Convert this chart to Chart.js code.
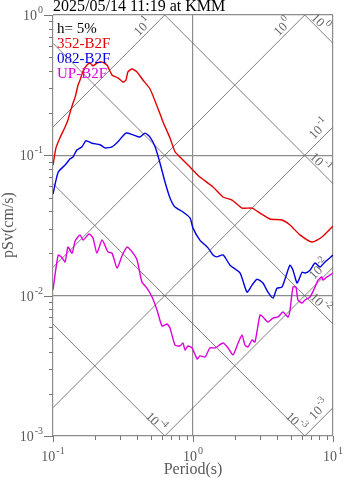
<!DOCTYPE html>
<html>
<head>
<meta charset="utf-8">
<script src="https://cdn.jsdelivr.net/npm/chart.js@4.4.1/dist/chart.umd.min.js"></script>
<style>
  html, body { margin: 0; padding: 0; background: #fff; }
  canvas { display: block; }
</style>
</head>
<body>
<canvas id="spectrum" width="347" height="478"></canvas>
<script>
// Pseudo-velocity response spectrum (tripartite, log-log)
const title = '2025/05/14 11:19 at KMM'
const damping = 'h= 5%'

const names = ['352-B2F', '082-B2F', 'UP-B2F']
const colors = ['rgb(226, 0, 0)', 'rgb(0, 0, 226)', 'rgb(220, 0, 220)']

// period (s) / pSv (cm/s) per component
const ewPeriod = [0.100, 0.105, 0.112, 0.122, 0.128, 0.132, 0.139, 0.144, 0.151, 0.156,
  0.164, 0.175, 0.184, 0.193, 0.206, 0.224, 0.243, 0.264, 0.291, 0.316,
  0.332, 0.343, 0.367, 0.398, 0.439, 0.493, 0.553, 0.611, 0.685, 0.744,
  0.807, 0.921, 1.03, 1.12, 1.39, 1.64, 1.90, 2.24, 2.64, 3.01,
  3.55, 4.32, 4.93, 5.81, 7.08, 8.34, 10.0]
const ewSv = [0.0853, 0.113, 0.133, 0.159, 0.179, 0.200, 0.236, 0.260, 0.317, 0.344,
  0.399, 0.440, 0.455, 0.433, 0.455, 0.462, 0.440, 0.374, 0.356, 0.333,
  0.344, 0.393, 0.412, 0.393, 0.344, 0.297, 0.225, 0.173, 0.133, 0.106,
  0.0973, 0.0853, 0.0760, 0.0701, 0.0595, 0.0505, 0.0480, 0.0421, 0.0421, 0.0388,
  0.0352, 0.0346, 0.0319, 0.0271, 0.0241, 0.0262, 0.0314]

const nsPeriod = [0.100, 0.109, 0.122, 0.132, 0.139, 0.148, 0.161, 0.172, 0.190, 0.217,
  0.235, 0.264, 0.291, 0.332, 0.373, 0.418, 0.454, 0.493, 0.536, 0.581,
  0.631, 0.685, 0.744, 0.848, 0.952, 1.00, 1.12, 1.28, 1.39, 1.48,
  1.64, 1.84, 2.17, 2.43, 2.64, 2.87, 3.16, 3.43, 3.73, 3.98,
  4.32, 4.69, 4.93, 5.18, 5.53, 5.81, 6.01, 6.31, 6.85, 7.44,
  8.07, 8.77, 10.0]
const nsSv = [0.0530, 0.0760, 0.0853, 0.0941, 0.0973, 0.109, 0.115, 0.127, 0.122, 0.119,
  0.113, 0.115, 0.125, 0.144, 0.140, 0.135, 0.144, 0.135, 0.115, 0.0882,
  0.0646, 0.0497, 0.0428, 0.0395, 0.0358, 0.0303, 0.0249, 0.0219, 0.0195, 0.0189,
  0.0195, 0.0165, 0.0145, 0.0106, 0.0119, 0.0131, 0.0123, 0.0106, 0.00962, 0.0113,
  0.0115, 0.0145, 0.0165, 0.0152, 0.0123, 0.0136, 0.0147, 0.0145, 0.0152, 0.0171,
  0.0160, 0.0174, 0.0195]

const udPeriod = [0.100, 0.109, 0.116, 0.122, 0.128, 0.137, 0.144, 0.156, 0.164, 0.181,
  0.193, 0.206, 0.224, 0.247, 0.264, 0.287, 0.311, 0.338, 0.367, 0.398,
  0.432, 0.469, 0.510, 0.553, 0.601, 0.652, 0.685, 0.744, 0.807, 0.848,
  0.877, 0.921, 0.984, 1.07, 1.12, 1.22, 1.32, 1.44, 1.64, 1.78,
  1.93, 2.10, 2.24, 2.35, 2.47, 2.64, 2.77, 3.01, 3.16, 3.43,
  3.73, 4.05, 4.39, 4.77, 4.93, 5.18, 5.44, 5.62, 6.01, 6.31,
  6.85, 7.44, 7.82, 8.34, 8.48, 9.06, 10.0]
const udSv = [0.0110, 0.0195, 0.0186, 0.0174, 0.0222, 0.0201, 0.0245, 0.0271, 0.0249, 0.0275,
  0.0258, 0.0201, 0.0249, 0.0205, 0.0201, 0.0157, 0.0192, 0.0222, 0.0205, 0.0180,
  0.0125, 0.0113, 0.00978, 0.00790, 0.00608, 0.00628, 0.00588, 0.00445, 0.00438, 0.00460,
  0.00410, 0.00438, 0.00424, 0.00354, 0.00372, 0.00366, 0.00424, 0.00424, 0.00460, 0.00424,
  0.00378, 0.00460, 0.00524, 0.00445, 0.00431, 0.00483, 0.00467, 0.00728, 0.00705, 0.00649,
  0.00693, 0.00705, 0.00765, 0.00705, 0.00790, 0.0115, 0.0115, 0.00931, 0.00887, 0.00931,
  0.00978, 0.0115, 0.0129, 0.0136, 0.0129, 0.0136, 0.0145]

// diagonal reference lines: acceleration (cm/s^2) and displacement (cm)
const accelLevels = [1e-3, 1e-2, 1e-1, 1, 10]
const dispLevels = [1e-4, 1e-3, 1e-2, 1e-1, 1]

const xTickExps = [-1, 0, 1]
const yTickExps = [-3, -2, -1, 0]

const TWO_PI = 2 * Math.PI
const FONT = '"Liberation Serif", "Times New Roman", serif'
const GRAY = '#5a5a5a'

const toPoints = (xs, ys) => xs.map((x, i) => ({ x, y: ys[i] }))
const isDecade = (v) => Math.abs(Math.log10(v) - Math.round(Math.log10(v))) < 1e-6

const curveSets = [
  toPoints(ewPeriod, ewSv),
  toPoints(nsPeriod, nsSv),
  toPoints(udPeriod, udSv)
].map((data, i) => ({
  data,
  borderColor: colors[i],
  borderWidth: 1.4,
  pointRadius: 0,
  tension: 0.2,
  showLine: true
}))

const refLine = (data) => ({
  data,
  borderColor: 'rgba(95, 95, 95, 0.9)',
  borderWidth: 0.9,
  pointRadius: 0,
  showLine: true
})
const accelSets = accelLevels.map(a => refLine([
  { x: 0.1, y: a * 0.1 / TWO_PI }, { x: 10, y: a * 10 / TWO_PI }
]))
const dispSets = dispLevels.map(d => refLine([
  { x: 0.1, y: TWO_PI * d / 0.1 }, { x: 10, y: TWO_PI * d / 10 }
]))

// "10" with a raised exponent, baseline at y
function drawPow(ctx, x, y, exp, size, supSize, align) {
  ctx.font = `${size}px ${FONT}`
  const w1 = ctx.measureText('10').width
  ctx.font = `${supSize}px ${FONT}`
  const w2 = ctx.measureText(String(exp)).width
  const total = w1 + 1 + w2
  const x0 = align === 'right' ? x - total : x - total / 2
  ctx.textAlign = 'left'
  ctx.textBaseline = 'alphabetic'
  ctx.font = `${size}px ${FONT}`
  ctx.fillText('10', x0, y)
  ctx.font = `${supSize}px ${FONT}`
  ctx.fillText(String(exp), x0 + w1 + 1, y - size * 0.5)
}

const decorations = {
  id: 'decorations',
  afterDraw(chart) {
    const ctx = chart.ctx
    const xs = chart.scales.x
    const ys = chart.scales.y
    const { left, right, top, bottom } = chart.chartArea

    ctx.save()

    // tick marks outside the frame
    ctx.strokeStyle = '#777'
    ctx.lineWidth = 1
    ctx.beginPath()
    for (const base of [0.1, 1]) {
      for (let m = 1; m <= 10; m++) {
        const px = Math.round(xs.getPixelForValue(m * base)) + 0.5
        const len = (m === 1 || m === 10) ? 6 : 4
        ctx.moveTo(px, bottom)
        ctx.lineTo(px, bottom + len)
      }
    }
    for (const base of [0.001, 0.01, 0.1]) {
      for (let m = 1; m <= 10; m++) {
        const py = Math.round(ys.getPixelForValue(m * base)) + 0.5
        const len = (m === 1 || m === 10) ? 9 : 4
        ctx.moveTo(left, py)
        ctx.lineTo(left - len, py)
      }
    }
    ctx.stroke()

    // axis tick labels
    ctx.fillStyle = GRAY
    for (const e of xTickExps) {
      drawPow(ctx, xs.getPixelForValue(Math.pow(10, e)), 461, e, 14, 10, 'center')
    }
    for (const e of yTickExps) {
      drawPow(ctx, 43, ys.getPixelForValue(Math.pow(10, e)) + 5, e, 14, 10, 'right')
    }

    // axis titles
    ctx.font = `16px ${FONT}`
    ctx.textAlign = 'center'
    ctx.textBaseline = 'alphabetic'
    ctx.fillText('Period(s)', (left + right) / 2, 474)
    ctx.save()
    ctx.translate(9, 225)
    ctx.rotate(-Math.PI / 2)
    ctx.textBaseline = 'middle'
    ctx.fillText('pSv(cm/s)', 0, 0)
    ctx.restore()

    // labels on the diagonal lines
    ctx.fillStyle = '#666'
    for (const a of accelLevels) {
      const svRight = a * 10 / TWO_PI
      let cx, cy
      if (svRight > 1) {
        cx = xs.getPixelForValue(TWO_PI / a) - 22
        cy = top + 12
      } else {
        cx = right - 14
        cy = ys.getPixelForValue(svRight) + 2
      }
      ctx.save()
      ctx.translate(cx, cy)
      ctx.rotate(-Math.PI / 4)
      drawPow(ctx, 0, 4, Math.round(Math.log10(a)), 13, 10, 'center')
      ctx.restore()
    }
    for (const d of dispLevels) {
      const svRight = TWO_PI * d / 10
      let cx, cy
      if (svRight >= 0.001) {
        cx = right - 13
        cy = ys.getPixelForValue(svRight) - 21
      } else {
        cx = xs.getPixelForValue(TWO_PI * d / 0.001) - 9
        cy = bottom - 14
      }
      ctx.save()
      ctx.translate(cx, cy)
      ctx.rotate(Math.PI / 4)
      drawPow(ctx, 0, 4, Math.round(Math.log10(d)), 13, 10, 'center')
      ctx.restore()
    }

    // title and legend
    ctx.textAlign = 'left'
    ctx.textBaseline = 'alphabetic'
    ctx.font = `16px ${FONT}`
    ctx.fillStyle = '#000'
    ctx.fillText(title, 53, 11)
    ctx.font = `15px ${FONT}`
    ctx.fillText(damping, 57, 33)
    names.forEach((name, i) => {
      ctx.fillStyle = colors[i]
      ctx.fillText(name, 57, 48 + i * 15)
    })

    ctx.restore()
  }
}

const gridColor = (c) => (c.tick && isDecade(c.tick.value)) ? '#8c8c8c' : 'rgba(0,0,0,0)'

new Chart(document.getElementById('spectrum'), {
  type: 'scatter',
  data: { datasets: [...curveSets, ...accelSets, ...dispSets] },
  options: {
    responsive: false,
    animation: false,
    layout: { padding: { left: 53, right: 14, top: 15, bottom: 42 } },
    plugins: {
      legend: { display: false },
      tooltip: { enabled: false }
    },
    scales: {
      x: {
        type: 'logarithmic',
        min: 0.1,
        max: 10,
        border: { display: false },
        ticks: { display: false },
        grid: { drawTicks: false, color: gridColor, lineWidth: 1.2 }
      },
      y: {
        type: 'logarithmic',
        min: 0.001,
        max: 1,
        border: { display: false },
        ticks: { display: false },
        grid: { drawTicks: false, color: gridColor, lineWidth: 1.2 }
      }
    }
  },
  plugins: [decorations]
})
</script>
</body>
</html>
